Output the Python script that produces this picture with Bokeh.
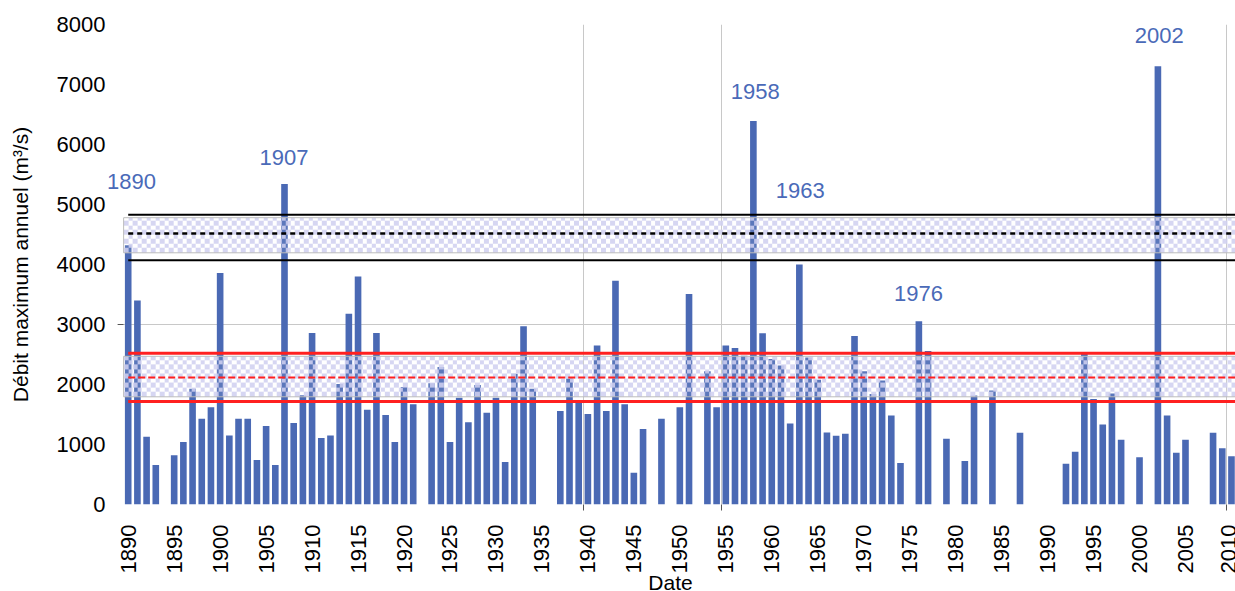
import numpy as np
from bokeh.plotting import figure
from bokeh.layouts import column
from bokeh.models import LinearAxis, FixedTicker, Range1d, ColumnDataSource
from bokeh.core.properties import value
from bokeh.embed import file_html
from bokeh.resources import INLINE

# ---- data ----
years = [1890, 1891, 1892, 1893, 1895, 1896, 1897, 1898, 1899, 1900,
         1901, 1902, 1903, 1904, 1905, 1906, 1907, 1908, 1909, 1910,
         1911, 1912, 1913, 1914, 1915, 1916, 1917, 1918, 1919, 1920,
         1921, 1923, 1924, 1925, 1926, 1927, 1928, 1929, 1930,
         1931, 1932, 1933, 1934, 1937, 1938, 1939, 1940,
         1941, 1942, 1943, 1944, 1945, 1946, 1948, 1950,
         1951, 1953, 1954, 1955, 1956, 1957, 1958, 1959, 1960,
         1961, 1962, 1963, 1964, 1965, 1966, 1967, 1968, 1969, 1970,
         1971, 1972, 1973, 1974, 1976, 1977, 1979,
         1981, 1982, 1984, 1987,
         1992, 1993, 1994, 1995, 1996, 1997, 1998, 2000,
         2002, 2003, 2004, 2005, 2008, 2009, 2010]
peak_flow = [4320, 3400, 1130, 660, 820, 1040, 1930, 1430, 1620, 3860,
             1150, 1430, 1430, 740, 1310, 660, 5340, 1360, 1820, 2860,
             1110, 1150, 2010, 3180, 3800, 1580, 2860, 1490, 1040, 1960,
             1670, 2020, 2290, 1040, 1780, 1370, 1990, 1530, 1780,
             710, 2180, 2970, 1930, 1560, 2100, 1740, 1510,
             2650, 1560, 3730, 1670, 530, 1260, 1430, 1620,
             3510, 2220, 1620, 2650, 2610, 2480, 6390, 2855, 2425,
             2315, 1350, 4000, 2450, 2080, 1200, 1145, 1180, 2810, 2220,
             1840, 2065, 1483, 690, 3056, 2560, 1095,
             727, 1818, 1900, 1194,
             679, 879, 2515, 1758, 1333, 1848, 1079, 788,
             7303, 1485, 861, 1079, 1194, 939, 806]

x_tick_years = list(range(1890, 2011, 5))
y_tick_values = list(range(0, 8001, 1000))

# annotated flood years
label_text = ["1890", "1907", "1958", "1963", "1976", "2002"]
label_x = [1890.35, 1906.95, 1958.2, 1963.1, 1975.95, 2002.15]
label_y = [5390, 5780, 6880, 5230, 3520, 7820]

# reference levels (upper: black, lower: red)
black_levels = [4830, 4515, 4070]     # upper bound, central (dashed), lower bound
black_band = [4195, 4780]
red_levels = [2522, 2115, 1717]
red_band = [1795, 2470]

grid_years = [1939.5, 1954.5, 2009.5]
grid_values = [3000]

BAR = "#4a69b4"
LBL = "#4a6ab8"
FONT = "Liberation Sans"

W, H = 1235, 591             # visible window
BL, BT, BB = 105, 24, 93     # the x-axis title runs slightly past the bottom edge
FH = BT + 480 + BB           # figure height (frame is 480 px tall)
X0, X1 = 1887.53, 2010.44
Y0, Y1 = 0, 8000
XB = years[0] - 0.5          # left edge of the category area

p = figure(width=W, height=FH, output_backend="svg", toolbar_location=None,
           x_range=Range1d(X0, X1), y_range=Range1d(Y0, Y1),
           x_axis_location=None, y_axis_location=None,
           min_border_left=BL, min_border_right=0, min_border_top=BT,
           min_border_bottom=BB)
p.outline_line_color = None
p.background_fill_color = "white"

px_x = (W - BL) / (X1 - X0)
px_y = 480 / (Y1 - Y0)

p.xgrid.ticker = FixedTicker(ticks=grid_years)
p.xgrid.grid_line_color = "#c8c8c8"
p.ygrid.visible = False

# horizontal grid line and its tick, starting at the category area
for gv in grid_values:
    p.line([XB, X1 + 2], [gv, gv], line_color="#c8c8c8", line_width=1)
    p.segment(x0=[XB - 6 / px_x], x1=[XB], y0=[gv], y1=[gv],
              line_color="#555555", line_width=1)

# tick-only x axis (closest to the frame)
xt = LinearAxis(ticker=FixedTicker(ticks=grid_years), axis_line_color=None,
                major_tick_line_color="#555555", major_tick_out=6, major_tick_in=0,
                major_label_text_font_size="1px", major_label_text_color=None,
                major_label_standoff=0, minor_tick_line_color=None)
p.add_layout(xt, "below")

# labelled axes
xa = LinearAxis(ticker=FixedTicker(ticks=x_tick_years), axis_line_color=None,
                major_tick_line_color=None, major_tick_out=0, major_tick_in=0,
                minor_tick_line_color=None, major_label_orientation=np.pi / 2,
                major_label_standoff=14, axis_label="Date", axis_label_standoff=-5)
ya = LinearAxis(ticker=FixedTicker(ticks=y_tick_values), axis_line_color=None,
                major_tick_line_color=None, major_tick_out=0, major_tick_in=0,
                minor_tick_line_color=None, major_label_standoff=0,
                axis_label="Débit maximum annuel (m³/s)", axis_label_standoff=22)
for ax in (xa, ya):
    ax.major_label_text_font = FONT
    ax.major_label_text_font_size = "22px"
    ax.major_label_text_color = "black"
    ax.axis_label_text_font = FONT
    ax.axis_label_text_font_size = "21px"
    ax.axis_label_text_font_style = "normal"
    ax.axis_label_text_color = "black"
p.add_layout(xa, "below")
p.add_layout(ya, "left")

src = ColumnDataSource(dict(year=years, flow=peak_flow))
p.vbar(x="year", top="flow", bottom=0, width=0.72, source=src,
       fill_color=BAR, line_color=None)

# shaded, checkered bands (texture built at one array pixel per screen pixel)
CELL = 4.5
for lo, hi in (black_band, red_band):
    nh = int(round((hi - lo) * px_y))
    nw = int(round((X1 - XB) * px_x))
    rr, cc = np.mgrid[0:nh, 0:nw]
    on = ((np.floor(rr / CELL) + np.floor(cc / CELL)) % 2) == 0
    tex = np.zeros((nh, nw, 4), dtype=np.uint8)
    tex[on] = (208, 208, 240, 225)
    tex[~on] = (255, 255, 255, 25)
    img = tex.view(dtype=np.uint32).reshape((nh, nw))
    p.image_rgba(image=[img], x=XB, y=lo, dw=X1 - XB, dh=hi - lo)
p.quad(left=[XB, XB], right=[X1 + 2, X1 + 2],
       bottom=[black_band[0], red_band[0]], top=[black_band[1], red_band[1]],
       fill_color=None, line_color="#bdbdbd", line_width=1)

# level lines
x_start = years[0]
for lev, dash, w in zip(black_levels, ["solid", "5 4", "solid"], [2, 2.5, 2]):
    p.line([x_start, X1 + 2], [lev, lev], line_color="black", line_width=w, line_dash=dash)
for lev, dash, w in zip(red_levels, ["solid", "7 3", "solid"], [3, 2, 3]):
    p.line([x_start, X1 + 2], [lev, lev], line_color="#ff2020", line_width=w, line_dash=dash)

# annotation labels (inside the frame, drawn as a glyph)
p.text(x=label_x, y=label_y, text=label_text, text_align="center",
       text_baseline="middle", text_color=LBL, text_font=value(FONT),
       text_font_size="22px")

page = column(p, styles={"max-height": f"{H}px", "overflow": "hidden"})
open("out.html", "w").write(file_html(page, INLINE))
